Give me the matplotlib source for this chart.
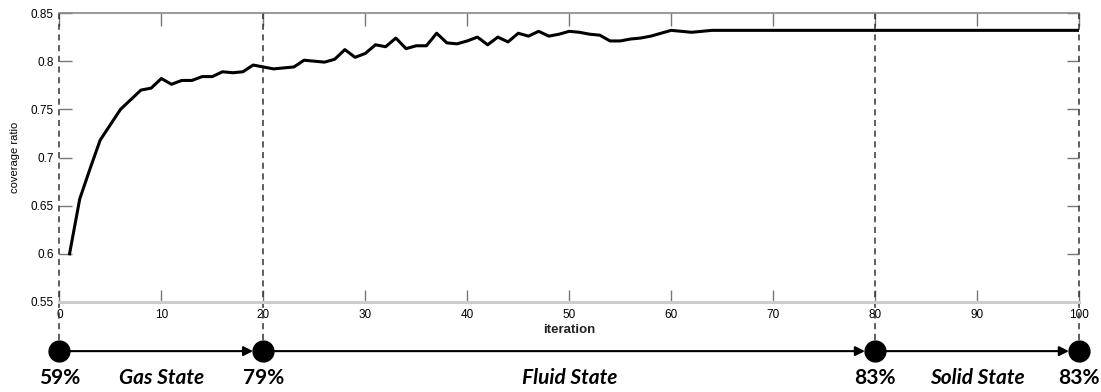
import numpy as np
import matplotlib.pyplot as plt

# coverage ratio per iteration
iterations = list(range(1, 101))
coverage = [0.600, 0.657, 0.688, 0.718, 0.734, 0.750, 0.760, 0.770, 0.772, 0.782,
            0.776, 0.780, 0.780, 0.784, 0.784, 0.789, 0.788, 0.789, 0.796, 0.794,
            0.792, 0.793, 0.794, 0.801, 0.800, 0.799, 0.802, 0.812, 0.804, 0.808,
            0.817, 0.815, 0.824, 0.813, 0.816, 0.816, 0.829, 0.819, 0.818, 0.821,
            0.825, 0.817, 0.825, 0.820, 0.829, 0.826, 0.831, 0.826, 0.828, 0.831,
            0.830, 0.828, 0.827, 0.821, 0.821, 0.823, 0.824, 0.826, 0.829, 0.832,
            0.831, 0.830, 0.831] + [0.832] * 37

# state boundaries and the ratio reached at each one
stage_x = [0, 20, 80, 100]
stage_pct = ["59%", "79%", "83%", "83%"]
state_names = ["Gas State", "Fluid State", "Solid State"]

fig = plt.figure(figsize=(11.01, 3.92), dpi=100)
ax = fig.add_axes([0.0539, 0.2296, 0.9262, 0.7372])

ax.plot(iterations, coverage, color="black", lw=2.2, zorder=3)

ax.set_xlim(0, 100)
ax.set_ylim(0.55, 0.85)
ax.set_xticks(np.arange(0, 101, 10))
ax.set_yticks([0.55, 0.6, 0.65, 0.7, 0.75, 0.8, 0.85])
ax.set_yticklabels(["0.55", "0.6", "0.65", "0.7", "0.75", "0.8", "0.85"])

for lab in ax.get_xticklabels() + ax.get_yticklabels():
    lab.set_fontfamily("Liberation Sans")
    lab.set_fontsize(8.5)
ax.tick_params(direction="in", length=9, width=1, color="#777777",
               top=True, right=True, pad=4)
ax.tick_params(axis="x", pad=5)

ax.set_xlabel("iteration", fontfamily="Liberation Sans", fontsize=9.5,
              fontweight="bold", color="#222222", labelpad=2)
ax.set_ylabel("coverage ratio", fontfamily="Liberation Sans", fontsize=8,
              labelpad=8)

for side in ["left", "right"]:
    ax.spines[side].set_visible(False)
ax.spines["top"].set_color("#888888")
ax.spines["top"].set_linewidth(1.2)
ax.spines["bottom"].set_color("#cccccc")
ax.spines["bottom"].set_linewidth(2.2)

trans = ax.get_xaxis_transform()
y_dot = -0.17
y_txt = -0.262

# dashed boundary lines running down to the timeline
for x in stage_x:
    ax.plot([x, x], [1.0, y_dot], transform=trans, color="#333333",
            lw=1.1, ls=(0, (4, 3)), clip_on=False, zorder=2)

# timeline arrows between the dots
for a, b in zip(stage_x[:-1], stage_x[1:]):
    ax.annotate("", xy=(b - 1.0, y_dot), xytext=(a, y_dot),
                xycoords=trans, textcoords=trans,
                arrowprops=dict(arrowstyle="-|>", color="black", lw=1.5,
                                mutation_scale=14, shrinkA=0, shrinkB=0),
                annotation_clip=False)

ax.plot(stage_x, [y_dot] * len(stage_x), "o", color="black", ms=15,
        transform=trans, clip_on=False, zorder=5)

for x, p in zip(stage_x, stage_pct):
    ax.text(x, y_txt, p, transform=trans, ha="center", va="center",
            fontfamily="Lato", fontweight="bold", fontsize=15)

for a, b, name in zip(stage_x[:-1], stage_x[1:], state_names):
    ax.text((a + b) / 2, y_txt, name, transform=trans, ha="center",
            va="center", fontfamily="Lato", fontweight="bold",
            fontstyle="italic", fontsize=15)

fig.savefig("out.png", dpi=100)
